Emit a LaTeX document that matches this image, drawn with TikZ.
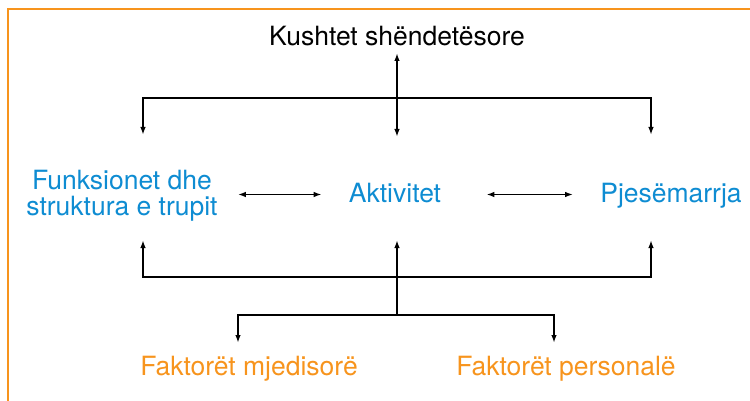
\documentclass[tikz,border=0pt]{standalone}
\usepackage{fontspec}
\setmainfont{TeX Gyre Heros}
\usepackage{tikz}
\usetikzlibrary{arrows.meta}

\definecolor{skyblue}{RGB}{14,140,210}
\definecolor{tangerine}{RGB}{247,148,29}

\begin{document}
\begin{tikzpicture}[x=1pt, y=-1pt,
  lbl/.style={font=\fontsize{26.5}{26}\selectfont, inner sep=0pt},
  level/.style={lbl, text=skyblue, align=center},
  factor/.style={lbl, text=tangerine},
  link/.style={line width=1.8pt, -{Latex[length=8pt,width=5.5pt]}},
  both/.style={link, {Latex[length=8pt,width=5.5pt]}-{Latex[length=8pt,width=5.5pt]}}
]
  \useasboundingbox (0,0) rectangle (750,401);
  \draw[tangerine, line width=1.2pt] (8,401) -- (8,9) -- (750,9);

  % labels
  \node[lbl, anchor=base] (health) at (397,46) {Kushtet shëndetësore};
  \node[level] (bodyfn) at (122,196) {Funksionet dhe\\struktura e trupit};
  \node[level, anchor=base] (activity) at (395,203) {Aktivitet};
  \node[level, anchor=base] (partic) at (671,203) {Pjesëmarrja};
  \node[factor, anchor=base] (environ) at (249,375) {Faktorët mjedisorë};
  \node[factor, anchor=base] (personal) at (566,375) {Faktorët personalë};

  % bar ends
  \coordinate (hub-top) at (397,98);
  \coordinate (hub-mid) at (397,277);
  \coordinate (hub-low) at (397,315);
  \coordinate (ac-mid) at (397,194.5);
  \coordinate (he-out) at (397,53);
  \coordinate (ac-in) at (397,137);
  \coordinate (ac-up) at (397,240);
  \coordinate (bf-in) at (143,135);
  \coordinate (bf-up) at (143,240);
  \coordinate (pa-in) at (651,135);
  \coordinate (pa-up) at (651,240);
  \coordinate (en-in) at (238,343);
  \coordinate (pe-in) at (554,343);

  \draw[both] (he-out) -- (ac-in);
  \draw[both] (bf-in) -- (bf-in |- hub-top) -- (pa-in |- hub-top) -- (pa-in);
  \draw[both, shorten <=20pt, shorten >=27pt] (bodyfn.east |- ac-mid) -- (activity.west |- ac-mid);
  \draw[both, shorten <=45pt, shorten >=27pt] (activity.east |- ac-mid) -- (partic.west |- ac-mid);
  \draw[both] (bf-up) -- (bf-up |- hub-mid) -- (pa-up |- hub-mid) -- (pa-up);
  \draw[link] (hub-low) -- (ac-up);
  \draw[both] (en-in) -- (en-in |- hub-low) -- (pe-in |- hub-low) -- (pe-in);
\end{tikzpicture}
\end{document}
